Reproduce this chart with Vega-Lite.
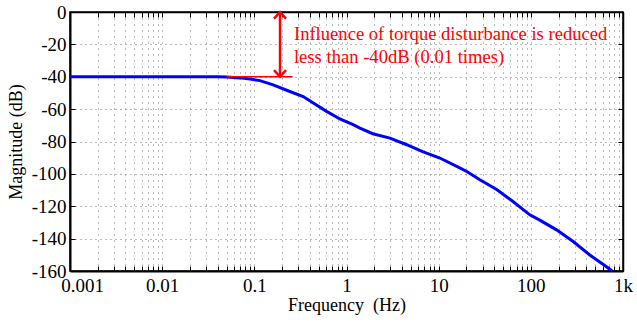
{
  "$schema": "https://vega.github.io/schema/vega-lite/v6.json",
  "width": 553,
  "height": 259,
  "autosize": {"type": "none"},
  "padding": {"left": 70, "top": 12, "right": 14, "bottom": 52},
  "background": "white",
  "config": {
    "view": {"stroke": "black", "strokeWidth": 1.5},
    "font": "Liberation Serif",
    "axis": {
      "labelFont": "Liberation Serif",
      "titleFont": "Liberation Serif",
      "labelFontSize": 19,
      "titleFontSize": 18,
      "titleFontWeight": "normal",
      "labelColor": "black",
      "titleColor": "black",
      "tickColor": "black",
      "domainColor": "black",
      "labelOverlap": false,
      "labelFlush": false
    }
  },
  "datasets": {
    "response": [
      {"f": 0.001, "db": -40},
      {"f": 0.01, "db": -40},
      {"f": 0.04, "db": -40},
      {"f": 0.05, "db": -40.1},
      {"f": 0.07, "db": -40.7},
      {"f": 0.09, "db": -41.4},
      {"f": 0.115, "db": -42.4},
      {"f": 0.16, "db": -45},
      {"f": 0.243, "db": -49.1},
      {"f": 0.339, "db": -52.2},
      {"f": 0.436, "db": -56.2},
      {"f": 0.608, "db": -61.4},
      {"f": 0.848, "db": -66.1},
      {"f": 1.18, "db": -69.6},
      {"f": 1.4, "db": -71.7},
      {"f": 1.93, "db": -75.2},
      {"f": 2.96, "db": -77.9},
      {"f": 4.5, "db": -82},
      {"f": 6.7, "db": -86.2},
      {"f": 10.3, "db": -90.2},
      {"f": 15.7, "db": -95.4},
      {"f": 20.2, "db": -98.5},
      {"f": 28, "db": -103.6},
      {"f": 43, "db": -109.8},
      {"f": 64, "db": -117.1},
      {"f": 97.5, "db": -125.3},
      {"f": 125, "db": -128.6},
      {"f": 190, "db": -134.6},
      {"f": 288, "db": -141.8},
      {"f": 436, "db": -150.1},
      {"f": 662, "db": -157.4},
      {"f": 760, "db": -160}
    ],
    "arrow": [{"f": 0.19, "db0": 0, "db1": -40}],
    "heads": [
      {"f": 0.19, "db": 0, "dir": "up"},
      {"f": 0.19, "db": -40, "dir": "down"}
    ],
    "level": [{"f0": 0.05, "f1": 0.26, "db": -40}],
    "note": [
      {"f": 0.269, "db": -17.3, "text": "Influence of torque disturbance is reduced"},
      {"f": 0.269, "db": -31.4, "text": "less than -40dB (0.01 times)"}
    ]
  },
  "resolve": {"axis": {"x": "independent", "y": "independent"}},
  "layer": [
    {
      "data": {"name": "response"},
      "mark": {"type": "line", "color": "#0000ff", "strokeWidth": 3, "clip": true},
      "encoding": {
        "x": {
          "field": "f", "type": "quantitative",
          "scale": {"type": "log", "domain": [0.001, 1000]},
          "title": "Frequency\u00a0 (Hz)",
          "axis": {
            "orient": "bottom",
            "values": [0.001, 0.002, 0.003, 0.004, 0.005, 0.006, 0.007, 0.008, 0.009,
                       0.01, 0.02, 0.03, 0.04, 0.05, 0.06, 0.07, 0.08, 0.09,
                       0.1, 0.2, 0.3, 0.4, 0.5, 0.6, 0.7, 0.8, 0.9,
                       1, 2, 3, 4, 5, 6, 7, 8, 9,
                       10, 20, 30, 40, 50, 60, 70, 80, 90,
                       100, 200, 300, 400, 500, 600, 700, 800, 900, 1000],
            "labelExpr": "datum.value == 1000 ? '1k' : (indexof([0.001, 0.01, 0.1, 1, 10, 100], datum.value) >= 0 ? toString(datum.value) : '')",
            "labelOffset": {"condition": {"test": "datum.value == 0.001", "value": 12}, "value": 0},
            "grid": true,
            "gridDash": [1, 5],
            "gridColor": "#777777",
            "gridWidth": 1,
            "tickSize": -5,
            "labelPadding": 10,
            "domainWidth": 2,
            "titlePadding": 1
          }
        },
        "y": {
          "field": "db", "type": "quantitative",
          "scale": {"domain": [-160, 0]},
          "title": "Magnitude (dB)",
          "axis": {
            "orient": "left",
            "values": [-160, -140, -120, -100, -80, -60, -40, -20, 0],
            "labelExpr": "toString(datum.value)",
            "grid": true,
            "gridDash": [1, 4],
            "gridColor": "#777777",
            "gridWidth": 1,
            "tickSize": -5,
            "labelPadding": 9,
            "domainWidth": 2,
            "titlePadding": 6
          }
        }
      }
    },
    {
      "data": {"name": "level"},
      "mark": {"type": "rule", "color": "#ff0000", "strokeWidth": 1.5},
      "encoding": {
        "x": {
          "field": "f0", "type": "quantitative",
          "scale": {"type": "log", "domain": [0.001, 1000]},
          "axis": {
            "orient": "top",
            "values": [0.001, 0.002, 0.003, 0.004, 0.005, 0.006, 0.007, 0.008, 0.009,
                       0.01, 0.02, 0.03, 0.04, 0.05, 0.06, 0.07, 0.08, 0.09,
                       0.1, 0.2, 0.3, 0.4, 0.5, 0.6, 0.7, 0.8, 0.9,
                       1, 2, 3, 4, 5, 6, 7, 8, 9,
                       10, 20, 30, 40, 50, 60, 70, 80, 90,
                       100, 200, 300, 400, 500, 600, 700, 800, 900, 1000],
            "labels": false,
            "grid": false,
            "tickSize": -5,
            "title": null,
            "domainWidth": 1.5
          }
        },
        "x2": {"field": "f1"},
        "y": {
          "field": "db", "type": "quantitative",
          "scale": {"domain": [-160, 0]},
          "axis": {
            "orient": "right",
            "values": [-160, -140, -120, -100, -80, -60, -40, -20, 0],
            "labels": false,
            "grid": false,
            "tickSize": -5,
            "title": null,
            "domainWidth": 1.5
          }
        }
      }
    },
    {
      "data": {"name": "arrow"},
      "mark": {"type": "rule", "color": "#ff0000", "strokeWidth": 2.5},
      "encoding": {
        "x": {"field": "f", "type": "quantitative", "scale": {"type": "log", "domain": [0.001, 1000]}, "axis": null},
        "y": {"field": "db0", "type": "quantitative", "scale": {"domain": [-160, 0]}, "axis": null},
        "y2": {"field": "db1"}
      }
    },
    {
      "data": {"name": "heads"},
      "mark": {"type": "point", "filled": false, "stroke": "#ff0000", "strokeWidth": 2.5, "size": 144, "opacity": 1},
      "encoding": {
        "x": {"field": "f", "type": "quantitative", "scale": {"type": "log", "domain": [0.001, 1000]}, "axis": null},
        "y": {"field": "db", "type": "quantitative", "scale": {"domain": [-160, 0]}, "axis": null},
        "shape": {
          "field": "dir", "type": "nominal",
          "scale": {"domain": ["up", "down"], "range": ["M-1,1.1L0,0L1,1.1", "M-1,-1.1L0,0L1,-1.1"]},
          "legend": null
        }
      }
    },
    {
      "data": {"name": "note"},
      "mark": {"type": "text", "align": "left", "baseline": "alphabetic", "font": "Liberation Serif", "fontSize": 18.6, "color": "#ff0000"},
      "encoding": {
        "x": {"field": "f", "type": "quantitative", "scale": {"type": "log", "domain": [0.001, 1000]}, "axis": null},
        "y": {"field": "db", "type": "quantitative", "scale": {"domain": [-160, 0]}, "axis": null},
        "text": {"field": "text"}
      }
    }
  ]
}
